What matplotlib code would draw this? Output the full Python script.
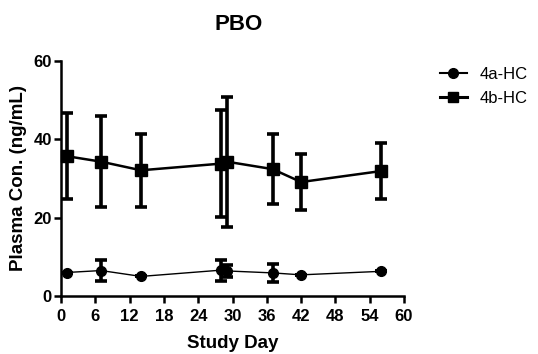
import matplotlib
matplotlib.use("Agg")
import matplotlib.pyplot as plt
from matplotlib.lines import Line2D

plt.rcParams['font.family'] = ['Liberation Sans', 'DejaVu Sans']

# Study days and plasma concentrations (mean, SD)
days = [1, 7, 14, 28, 29, 37, 42, 56]
hc4a_mean = [6.0, 6.5, 5.0, 6.6, 6.4, 5.9, 5.4, 6.3]
hc4a_sd = [0.0, 2.6, 0.0, 2.7, 1.5, 2.2, 0.0, 0.0]
hc4b_mean = [35.7, 34.3, 32.1, 33.8, 34.3, 32.4, 29.1, 31.9]
hc4b_sd = [11.0, 11.7, 9.3, 13.7, 16.6, 9.0, 7.2, 7.2]

x_ticks = list(range(0, 61, 6))
y_ticks = [0, 20, 40, 60]

fig = plt.figure(figsize=(5.38, 3.54), dpi=100)
W, H = 538, 354
ax = fig.add_axes([61 / W, 1 - 296 / H, (404 - 61) / W, (296 - 61) / H])

ax.errorbar(days, hc4b_mean, yerr=hc4b_sd, color='black', marker='s', markersize=8,
            linewidth=1.8, elinewidth=2.6, capsize=4.3, capthick=2.6, clip_on=False, zorder=3)
ax.errorbar(days, hc4a_mean, yerr=hc4a_sd, color='black', marker='o', markersize=7,
            linewidth=1.0, elinewidth=2.6, capsize=4.3, capthick=2.6, clip_on=False, zorder=3)

ax.set_xlim(0, 60)
ax.set_ylim(0, 60)
ax.set_xticks(x_ticks)
ax.set_yticks(y_ticks)
for s in ['top', 'right']:
    ax.spines[s].set_visible(False)
for s in ['left', 'bottom']:
    ax.spines[s].set_linewidth(1.8)
ax.tick_params(direction='out', length=5, width=1.8, labelsize=12)
ax.tick_params(axis='x', pad=4.5)
ax.tick_params(axis='y', pad=1.5)
for lab in ax.get_xticklabels() + ax.get_yticklabels():
    lab.set_fontweight('bold')

ax.set_xlabel('Study Day', fontsize=13.5, fontweight='bold', labelpad=8)
ax.set_ylabel('Plasma Con. (ng/mL)', fontsize=13.5, fontweight='bold', labelpad=5)
fig.text(239 / W, 1 - 24 / H, 'PBO', fontsize=16, fontweight='bold', ha='center', va='center')

handles = [
    Line2D([], [], color='black', marker='o', markersize=7, linewidth=1.5),
    Line2D([], [], color='black', marker='s', markersize=7.5, linewidth=2.2),
]
fig.legend(handles, ['4a-HC', '4b-HC'], loc='upper left', bbox_to_anchor=(440 / W, 1 - 67 / H),
           frameon=False, fontsize=12, handlelength=1.6, handletextpad=0.8, labelspacing=0.55,
           borderaxespad=0, borderpad=0)

fig.savefig('out.png', dpi=100)
